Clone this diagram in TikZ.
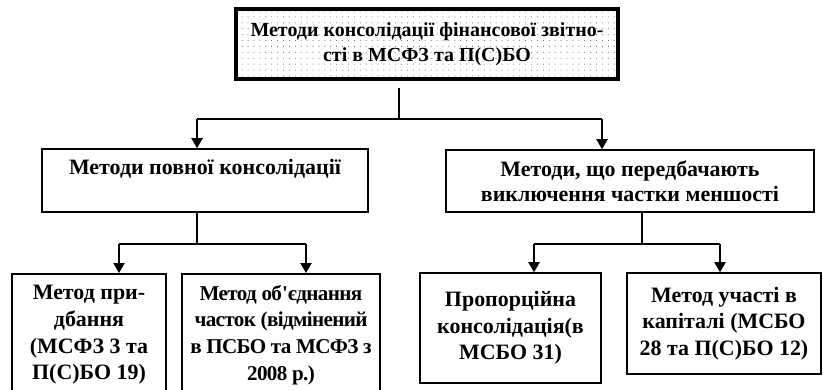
\documentclass[tikz,border=0pt]{standalone}
\usepackage{fontspec}
\setmainfont{Liberation Serif}
\usetikzlibrary{positioning, arrows.meta, patterns.meta}

\tikzset{
    box/.style={draw, line width=1.1pt, align=center, inner sep=2pt,
        font=\bfseries\fontsize{15.6}{19}\selectfont},
    link/.style={line width=1.1pt},
    arrow/.style={link, -{Triangle[length=0.25cm, width=0.28cm]}}
}

\begin{document}
\begin{tikzpicture}[x=0.025cm, y=-0.025cm]
            \useasboundingbox (0,0) rectangle (823,389);
            \clip (0,0) rectangle (823,389);

            \node [box, line width=2.8pt, font=\bfseries\fontsize{14.2}{18.2}\selectfont, pattern={Dots[distance=4.2pt, radius=0.35pt]}, pattern color=black!65, minimum width=9.55cm, minimum height=1.75cm] (methods) at (427,44) {Методи консолідації фінансової звітно-\\сті в МСФЗ та П(С)БО};

            \node [box, minimum width=8.15cm, minimum height=1.575cm] (full) at (205,180.5) {Методи повної консолідації\\~};
            \node [box, font=\bfseries\fontsize{15.6}{17.8}\selectfont, minimum width=9.2cm, minimum height=1.55cm] (minority) at (630,181) {Методи, що передбачають\\виключення частки меншості};

            \node [box, anchor=north, minimum width=3.85cm, minimum height=3.05cm] (acquisition) at (89,273) {Метод при-\\дбання\\(МСФЗ 3 та\\П(С)БО 19)};
            \node [box, anchor=north, font=\bfseries\fontsize{15}{19}\selectfont\addfontfeature{LetterSpace=-3}, minimum width=4.95cm, minimum height=3.05cm] (pooling) at (281,273) {Метод об\textquotesingle єднання\\часток (відмінений\\в ПСБО та МСФЗ з\\2008 р.)};
            \node [box, minimum width=4.525cm, minimum height=2.75cm] (proportional) at (510.5,328) {Пропорційна\\консолідація(в\\МСБО 31)};
            \node [box, minimum width=4.85cm, minimum height=2.525cm] (equity) at (724,323.5) {Метод участі в\\капіталі (МСБО\\28 та П(С)БО 12)};

            \coordinate (topjoin) at (399,119);
            \coordinate (fullturn) at (197,119);
            \coordinate (minorityturn) at (602,119);
            \draw [link, shorten <=0.17cm] (methods.south -| topjoin) -- (topjoin);
            \draw [link] (fullturn) -- (minorityturn);
            \draw [arrow] (fullturn) -- (fullturn |- full.north);
            \draw [arrow] (minorityturn) -- (minorityturn |- minority.north);

            \coordinate (fulljoin) at (197,244);
            \coordinate (acquisitionturn) at (119,244);
            \coordinate (poolingturn) at (306,244);
            \draw [link] (full.south -| fulljoin) -- (fulljoin);
            \draw [link] (acquisitionturn) -- (poolingturn);
            \draw [arrow] (acquisitionturn) -- (acquisitionturn |- acquisition.north);
            \draw [arrow] (poolingturn) -- (poolingturn |- pooling.north);

            \coordinate (minorityjoin) at (642,244);
            \coordinate (proportionalturn) at (534,244);
            \coordinate (equityturn) at (720,244);
            \draw [link] (minority.south -| minorityjoin) -- (minorityjoin);
            \draw [link] (proportionalturn) -- (equityturn);
            \draw [arrow] (proportionalturn) -- (proportionalturn |- proportional.north);
            \draw [arrow] (equityturn) -- (equityturn |- equity.north);
        \end{tikzpicture}
\end{document}
